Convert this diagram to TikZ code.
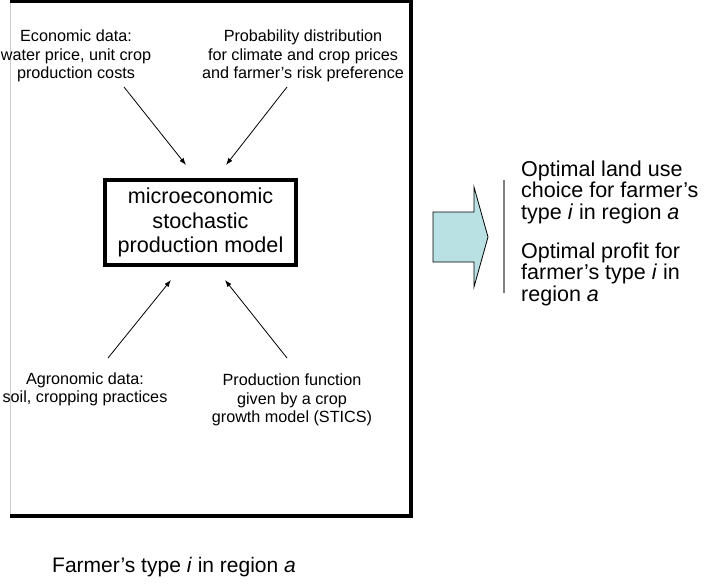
\documentclass[tikz,border=0pt]{standalone}
\usepackage{fontspec}
\setmainfont{Liberation Sans}
\usepackage{tikz}
\usetikzlibrary{arrows.meta,positioning}

\definecolor{arrowfill}{RGB}{185,225,228}

\begin{document}
\begin{tikzpicture}[x=1pt,y=-1pt,>={Latex[length=7pt,width=5pt]},
	smalltext/.style={align=center,font=\fontsize{16.2}{18.5}\selectfont,inner sep=0pt},
	bigtext/.style={align=left,font=\fontsize{21.5}{21.5}\selectfont,inner sep=0pt},
	modelbox/.style={draw,line width=4pt,minimum width=191pt,minimum height=85pt,outer sep=0pt,align=center,inner sep=0pt,font=\fontsize{21.6}{24.5}\selectfont}]
	\useasboundingbox (0,0) rectangle (706,588);
	\draw[gray!40,line width=1pt] (10.5,0) -- (10.5,514);
	\draw[line width=4pt] (10,1.5) -- (411,1.5) -- (411,516) -- (10,516);
	
	\node[modelbox] (model) at (200.5,222.5) {microeconomic\\stochastic\\production model};
	\node[smalltext] (econ) at (76,56) {Economic data:\\water price, unit crop\\production costs};
	\node[smalltext] (prob) at (303,56) {Probability distribution\\for climate and crop prices\\and farmer's risk preference};
	\node[smalltext] (agro) at (85,389.5) {Agronomic data:\\soil, cropping practices};
	\node[smalltext] (prodfn) at (292,400) {Production function\\given by a crop\\growth model (STICS)};
	\node[bigtext,anchor=west] (result) at (521,233) {Optimal land use\\choice for farmer's\\type \textit{i} in region \textit{a}\\[17.5pt]Optimal profit for\\farmer's type \textit{i} in\\region \textit{a}};
	\node[bigtext,anchor=west,font=\fontsize{21}{24}\selectfont] (farmer) at (52,567) {Farmer's type \textit{i} in region \textit{a}};
	
	\path[->,line width=0.8pt] 
	([shift={(48,31)}]econ.center) edge ([shift={(-14.5,-57.5)}]model.center)
	([shift={(-16,31)}]prob.center) edge ([shift={(25.5,-57.5)}]model.center)
	([shift={(23,-31.5)}]agro.center) edge ([shift={(-29.5,57.5)}]model.center)
	([shift={(-5,-42)}]prodfn.center) edge ([shift={(24.5,57.5)}]model.center);
	
	\draw[fill=arrowfill,line width=0.8pt] (433,212) -- (474,212) -- (474,187) -- (488,237) -- (474,287) -- (474,262) -- (433,262) -- cycle;
	\draw[gray,line width=1.5pt] (504,180) -- (504,293);
\end{tikzpicture}
\end{document}
